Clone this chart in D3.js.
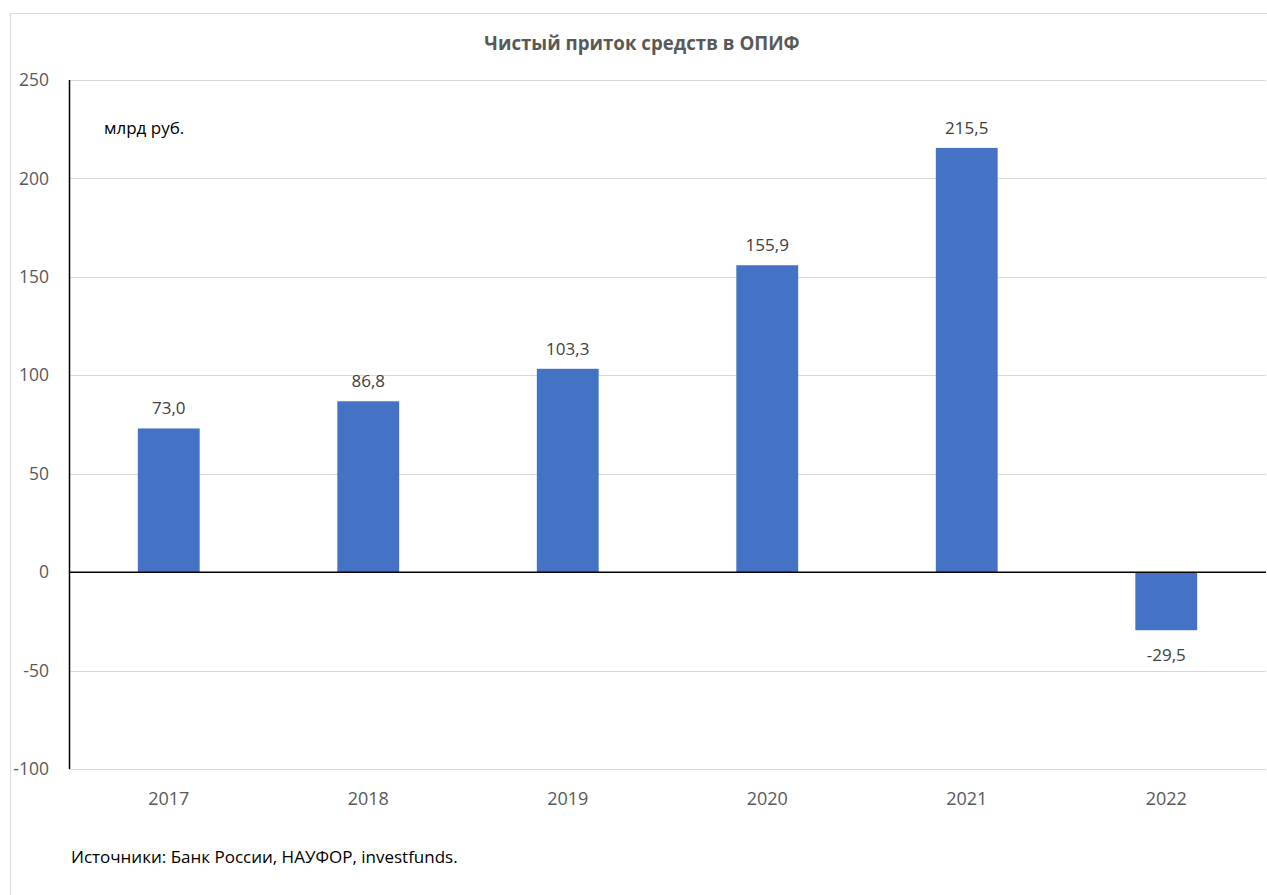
<!DOCTYPE html>
<html><head><meta charset="utf-8">
<script src="https://cdn.jsdelivr.net/npm/d3@7"></script>
<style>body{margin:0;background:#fff;} svg{display:block;}</style>
</head><body>
<script>
const categories = ["2017","2018","2019","2020","2021","2022"];
const values = [73.0, 86.8, 103.3, 155.9, 215.5, -29.5];
const yTicks = [-100,-50,0,50,100,150,200,250];
const title = "Чистый приток средств в ОПИФ";
const unitLabel = "млрд руб.";
const sourceText = "Источники: Банк России, НАУФОР, investfunds.";

(function(){
const W = 1267, H = 895;
const font = "'Open Sans', 'Noto Sans', sans-serif";
const svg = d3.select("body").append("svg").attr("width", W).attr("height", H);
svg.append("rect").attr("x",10.5).attr("y",13.5).attr("width",W+10).attr("height",H+10)
  .attr("fill","#fff").attr("stroke","#d9d9d9");

const pL = 69, pR = 1266, pT = 80, pB = 769;
const x = d3.scaleBand().domain(categories).range([pL, pR]).paddingInner(0.69).paddingOuter(0.345);
const y = d3.scaleLinear().domain([-100, 250]).range([pB, pT]);

svg.append("g").selectAll("line").data(yTicks).join("line")
  .attr("x1", pL).attr("x2", pR).attr("y1", d=>Math.round(y(d))+0.5).attr("y2", d=>Math.round(y(d))+0.5)
  .attr("stroke", "#d9d9d9").attr("stroke-width", 1);

const yAxis = d3.axisLeft(y).tickValues(yTicks).tickSize(0).tickPadding(0).tickFormat(d=>d);
const ga = svg.append("g").attr("transform", `translate(49,0)`).call(yAxis);
ga.select(".domain").remove();
ga.selectAll("text").attr("font-family", font).attr("font-size", 17.5).attr("fill", "#595959");

svg.append("g").selectAll("rect").data(values).join("rect")
  .attr("x", (d,i)=>x(categories[i]))
  .attr("width", x.bandwidth())
  .attr("y", d=>y(Math.max(0,d)))
  .attr("height", d=>Math.abs(y(d)-y(0)))
  .attr("fill", "#4472c4");

svg.append("g").selectAll("text").data(values).join("text")
  .attr("x", (d,i)=>x(categories[i])+x.bandwidth()/2)
  .attr("y", d=> d>=0 ? y(d)-14 : y(d)+31)
  .attr("text-anchor","middle").attr("font-family", font).attr("font-size", 17).attr("fill","#404040")
  .text(d=>d.toFixed(1).replace(".", ","));

svg.append("line").attr("x1", pL+0.5).attr("x2", pL+0.5).attr("y1", pT).attr("y2", pB)
  .attr("stroke","#000").attr("stroke-width",1.5);
svg.append("line").attr("x1", pL).attr("x2", pR).attr("y1", y(0)).attr("y2", y(0))
  .attr("stroke","#000").attr("stroke-width",1.5);

const xAxis = d3.axisBottom(x).tickSize(0).tickPadding(0);
const gx = svg.append("g").attr("transform", `translate(0,${pB+36})`).call(xAxis);
gx.select(".domain").remove();
gx.selectAll("text").attr("font-family", font).attr("font-size", 18).attr("fill", "#595959").attr("dy", 0);

svg.append("text").attr("x", 642).attr("y", 50).attr("text-anchor","middle")
  .attr("font-family", font).attr("font-weight","bold").attr("font-size", 18.7).attr("fill","#595959").text(title);
svg.append("text").attr("x", 104).attr("y", 134)
  .attr("font-family", font).attr("font-size", 17).attr("fill","#000").text(unitLabel);
svg.append("text").attr("x", 71).attr("y", 863)
  .attr("font-family", font).attr("font-size", 17).attr("fill","#000").text(sourceText);
})();
</script>
</body></html>
